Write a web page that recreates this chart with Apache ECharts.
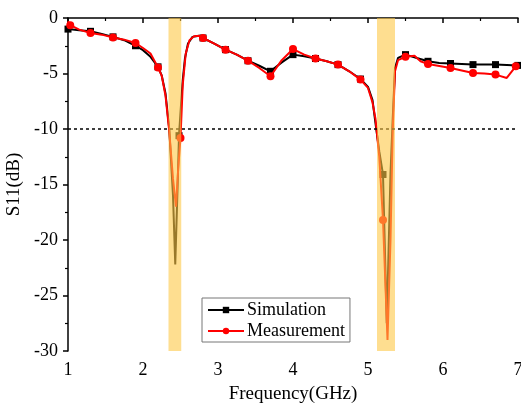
<!DOCTYPE html>
<html>
<head>
<meta charset="utf-8">
<script src="https://cdn.jsdelivr.net/npm/echarts@6/dist/echarts.min.js"></script>
<style>
  html, body { margin: 0; padding: 0; background: #fff; }
  #chart { width: 521px; height: 408px; }
</style>
</head>
<body>
<div id="chart"></div>
<script>
// 模擬 (Simulation) 曲線
const simFreq = [1.00, 1.15, 1.30, 1.45, 1.60, 1.75, 1.90, 2.00, 2.10, 2.20, 2.25, 2.30, 2.35, 2.40, 2.43, 2.46, 2.48, 2.50, 2.53, 2.56, 2.60, 2.66, 2.75, 2.80, 2.95, 3.10, 3.25, 3.40, 3.55, 3.70, 3.85, 4.00, 4.15, 4.30, 4.45, 4.60, 4.75, 4.90, 5.00, 5.06, 5.10, 5.15, 5.20, 5.25, 5.30, 5.33, 5.36, 5.40, 5.50, 5.65, 5.80, 5.95, 6.10, 6.40, 6.70, 7.00];
const simS11 = [-1.0, -1.1, -1.2, -1.45, -1.7, -2.0, -2.5, -2.9, -3.5, -4.4, -5.2, -6.8, -10.0, -16.0, -22.2, -15.5, -10.6, -8.5, -5.6, -3.6, -2.3, -1.7, -1.6, -1.8, -2.3, -2.85, -3.3, -3.85, -4.3, -4.8, -4.0, -3.3, -3.45, -3.65, -3.9, -4.2, -4.8, -5.5, -6.2, -7.4, -9.5, -12.0, -14.1, -27.5, -14.0, -9.0, -4.5, -3.6, -3.3, -3.6, -3.9, -4.05, -4.1, -4.2, -4.2, -4.27];
const simMarks = [1.00, 1.30, 1.60, 1.90, 2.20, 2.48, 2.80, 3.10, 3.40, 3.70, 4.00, 4.30, 4.60, 4.90, 5.20, 5.50, 5.80, 6.10, 6.40, 6.70, 7.00];

// 量測 (Measurement) 曲線
const meaFreq = [1.00, 1.03, 1.15, 1.30, 1.45, 1.60, 1.75, 1.90, 2.00, 2.10, 2.20, 2.25, 2.30, 2.35, 2.40, 2.44, 2.47, 2.50, 2.53, 2.57, 2.62, 2.68, 2.75, 2.80, 2.95, 3.10, 3.25, 3.40, 3.55, 3.70, 3.85, 4.00, 4.15, 4.30, 4.45, 4.60, 4.75, 4.90, 5.00, 5.06, 5.10, 5.15, 5.20, 5.26, 5.30, 5.33, 5.36, 5.40, 5.50, 5.62, 5.70, 5.80, 6.10, 6.40, 6.55, 6.70, 6.85, 6.97];
const meaS11 = [-0.3, -0.65, -1.05, -1.35, -1.5, -1.75, -1.95, -2.25, -2.7, -3.2, -4.45, -5.2, -7.0, -10.2, -14.5, -17.0, -13.5, -10.8, -6.0, -3.2, -2.0, -1.65, -1.6, -1.8, -2.3, -2.85, -3.3, -3.85, -4.5, -5.25, -3.8, -2.8, -3.3, -3.65, -3.9, -4.2, -4.8, -5.55, -6.3, -7.6, -9.1, -12.5, -18.2, -29.0, -20.0, -10.0, -4.8, -3.8, -3.5, -3.4, -3.9, -4.15, -4.5, -4.95, -5.0, -5.1, -5.4, -4.35];
const meaMarks = [1.03, 1.30, 1.60, 1.90, 2.20, 2.50, 2.80, 3.10, 3.40, 3.70, 4.00, 4.30, 4.60, 4.90, 5.20, 5.50, 5.80, 6.10, 6.40, 6.70, 6.97];

// 頻帶區域 (GHz)
const bands = [[2.34, 2.51], [5.12, 5.36]];
const threshold = -10;

const FONT = "'Liberation Serif', 'DejaVu Serif', serif";

const buildData = (xs, ys, marks, size) =>
  xs.map((x, i) => ({
    value: [x, ys[i]],
    symbolSize: marks.includes(x) ? size : 0,
  }));

const chart = echarts.init(document.getElementById("chart"));

chart.setOption({
  animation: false,
  grid: { left: 68, right: 3, top: 18, bottom: 57, outerBoundsMode: "none", containLabel: false },
  legend: {
    data: ["Simulation", "Measurement"],
    orient: "vertical",
    left: 202,
    top: 298,
    padding: [3, 5, 2, 5],
    itemGap: 3,
    itemWidth: 36,
    itemHeight: 8,
    borderColor: "#777",
    borderWidth: 1,
    backgroundColor: "#fff",
    textStyle: { fontFamily: FONT, fontSize: 18, color: "#000", padding: [0, 0, 0, -2] },
  },
  xAxis: {
    type: "value",
    min: 1,
    max: 7,
    interval: 1,
    name: "Frequency(GHz)",
    nameLocation: "middle",
    nameGap: 34,
    nameTextStyle: { fontFamily: FONT, fontSize: 19, color: "#000" },
    axisLine: { lineStyle: { color: "#000", width: 1.5 } },
    axisTick: { length: 5, lineStyle: { color: "#000", width: 1.5 } },
    minorTick: { show: true, splitNumber: 2, length: 3, lineStyle: { color: "#000", width: 1.2 } },
    splitLine: { show: false },
    axisLabel: { fontFamily: FONT, fontSize: 18, color: "#000", margin: 10 },
  },
  yAxis: {
    type: "value",
    min: -30,
    max: 0,
    interval: 5,
    name: "S11(dB)",
    nameLocation: "middle",
    nameGap: 43,
    nameTextStyle: { fontFamily: FONT, fontSize: 19, color: "#000" },
    axisLine: { show: true, lineStyle: { color: "#000", width: 1.5 } },
    axisTick: { show: true, length: 5, lineStyle: { color: "#000", width: 1.5 } },
    minorTick: { show: true, splitNumber: 2, length: 3, lineStyle: { color: "#000", width: 1.2 } },
    splitLine: { show: false },
    axisLabel: { fontFamily: FONT, fontSize: 18, color: "#000", margin: 10 },
  },
  series: [
    {
      name: "Simulation",
      type: "line",
      z: 3,
      symbol: "rect",
      showAllSymbol: true,
      color: "#000",
      lineStyle: { width: 2, color: "#000" },
      itemStyle: { color: "#000" },
      data: buildData(simFreq, simS11, simMarks, 7),
      markLine: {
        silent: true,
        symbol: "none",
        label: { show: false },
        lineStyle: { color: "#000", width: 1.5, type: [3, 3] },
        data: [{ yAxis: threshold }],
      },
    },
    {
      name: "Measurement",
      type: "line",
      z: 4,
      symbol: "circle",
      showAllSymbol: true,
      color: "#f00",
      lineStyle: { width: 2, color: "#f00" },
      itemStyle: { color: "#f00" },
      data: buildData(meaFreq, meaS11, meaMarks, 8),
    },
    {
      name: "bands",
      type: "line",
      z: 10,
      data: [],
      markArea: {
        silent: true,
        z: 10,
        itemStyle: { color: "rgba(253, 200, 70, 0.6)" },
        data: bands.map((b) => [{ xAxis: b[0] }, { xAxis: b[1] }]),
      },
    },
  ],
});
</script>
</body>
</html>
